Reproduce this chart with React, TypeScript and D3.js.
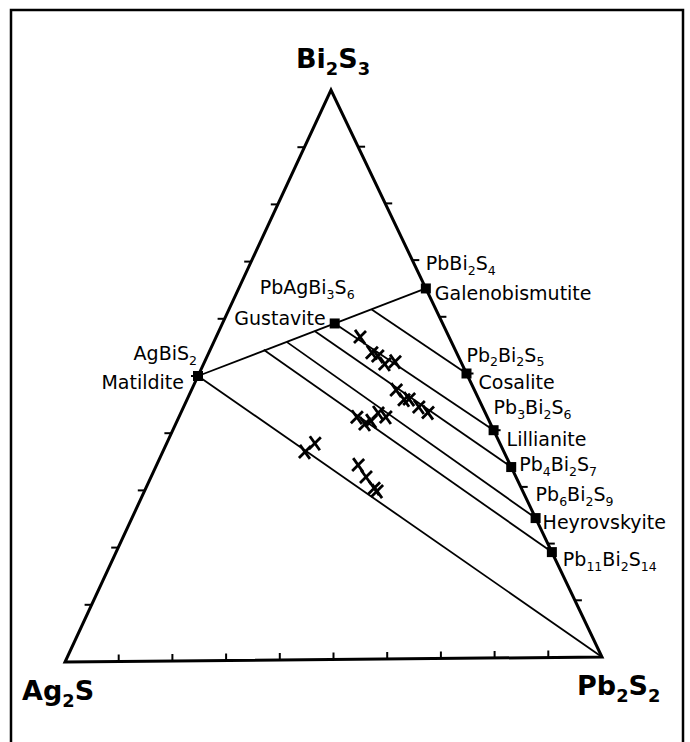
import React from 'react';
import * as d3 from 'd3';

// ternary end members: [Ag2S, Pb2S2, Bi2S3]
const endMembers = ['Ag2S', 'Pb2S2', 'Bi2S3'];

// phases plotted as filled squares (fractions)
const phaseFormula = ['AgBiS2', 'PbAgBi3S6', 'PbBi2S4', 'Pb2Bi2S5', 'Pb3Bi2S6', 'Pb4Bi2S7', 'Pb6Bi2S9', 'Pb11Bi2S14'];
const phaseName = ['Matildite', 'Gustavite', 'Galenobismutite', 'Cosalite', 'Lillianite', '', 'Heyrovskyite', ''];
const phaseComp = [
  [0.5, 0, 0.5],
  [0.2, 0.21, 0.59],
  [0, 0.35, 0.65],
  [0, 0.5, 0.5],
  [0, 0.6, 0.4],
  [0, 0.665, 0.335],
  [0, 0.755, 0.245],
  [0, 0.815, 0.185],
];

// starting points of the tie lines on the AgBiS2 - PbBi2S4 join
const joinStart = [
  [0.5, 0, 0.5],
  [0.119, 0.267, 0.614],
  [0.2, 0.21, 0.59],
  [0.244, 0.179, 0.577],
  [0.305, 0.137, 0.558],
  [0.355, 0.1, 0.545],
  [0.5, 0, 0.5],
];
const joinEnd = [
  [0, 0.35, 0.65],
  [0, 0.5, 0.5],
  [0, 0.6, 0.4],
  [0, 0.665, 0.335],
  [0, 0.755, 0.245],
  [0, 0.815, 0.185],
  [0, 1, 0],
];

// analyses (crosses)
const analyses = [
  [0.165, 0.269, 0.566], [0.157, 0.305, 0.538], [0.149, 0.319, 0.532], [0.143, 0.339, 0.518], [0.122, 0.356, 0.522],
  [0.145, 0.383, 0.472], [0.139, 0.406, 0.455], [0.129, 0.415, 0.456], [0.118, 0.44, 0.442], [0.106, 0.462, 0.432],
  [0.242, 0.333, 0.425], [0.233, 0.354, 0.413], [0.219, 0.363, 0.418], [0.199, 0.369, 0.432], [0.188, 0.387, 0.425],
  [0.369, 0.266, 0.365], [0.343, 0.277, 0.38],
  [0.282, 0.377, 0.341], [0.278, 0.402, 0.32], [0.273, 0.427, 0.3], [0.27, 0.435, 0.295],
];

const tickSteps = d3.range(1, 10).map(k => k / 10);

// layout
const W = 690, H = 742;
const vA: [number, number] = [65, 662];
const vB: [number, number] = [602, 657];
const vC: [number, number] = [331, 90];
const edgeAC = d3.interpolateArray(vA, vC);
const edgeBC = d3.interpolateArray(vB, vC);

function proj(c: number[]): [number, number] {
  const [ag, pb, bi] = c;
  const l = edgeAC(bi), r = edgeBC(bi);
  const t = ag + pb > 0 ? pb / (ag + pb) : 0;
  const p = d3.interpolateArray(l, r)(t);
  return [p[0], p[1]];
}

const endLabelPos = [
  { dx: -43, dy: 38, anchor: 'start' },
  { dx: -25, dy: 38, anchor: 'start' },
  { dx: 2, dy: -22, anchor: 'middle' },
];
const formulaPos = [
  { dx: -1, dy: -16, anchor: 'end' },
  { dx: -75, dy: -29, anchor: 'start' },
  { dx: 0, dy: -18, anchor: 'start' },
  { dx: 0, dy: -12, anchor: 'start' },
  { dx: 0, dy: -16, anchor: 'start' },
  { dx: 8, dy: 4, anchor: 'start' },
  { dx: 0, dy: -17, anchor: 'start' },
  { dx: 11, dy: 14, anchor: 'start' },
];
const namePos = [
  { dx: -14, dy: 13, anchor: 'end' },
  { dx: -9, dy: 2, anchor: 'end' },
  { dx: 9, dy: 12, anchor: 'start' },
  { dx: 12, dy: 15, anchor: 'start' },
  { dx: 13, dy: 16, anchor: 'start' },
  null,
  { dx: 7, dy: 11, anchor: 'start' },
  null,
];

function Formula({ text, x, y, size, anchor, bold }: any) {
  const parts = text.split(/(\d+)/).filter(Boolean);
  const sh = size * 0.26;
  let low = false;
  return (
    <text x={x} y={y} fontSize={size} textAnchor={anchor} fontWeight={bold ? 'bold' : 'normal'}>
      {parts.map((p: string, i: number) => {
        const isSub = /\d/.test(p);
        const dy = isSub ? (low ? 0 : sh) : (low ? -sh : 0);
        low = isSub;
        return <tspan key={i} dy={dy} fontSize={isSub ? size * 0.66 : size}>{p}</tspan>;
      })}
    </text>
  );
}

export default function App() {
  const line = d3.line();
  const tri = [vA, vB, vC, vA].map(p => p as [number, number]);
  const tick = 7;

  const leftTicks = tickSteps.map(f => proj([1 - f, 0, f]));
  const rightTicks = tickSteps.map(f => proj([0, 1 - f, f]));
  const baseTicks = tickSteps.map(f => proj([1 - f, f, 0]));

  return (
    <div style={{ position: 'absolute', left: 0, top: 0, width: W, height: H, background: '#fff' }}>
      <svg width={W} height={H} viewBox={`0 0 ${W} ${H}`} fontFamily="'DejaVu Sans', sans-serif" fill="#000">
        <rect x={11} y={10} width={672} height={745} fill="none" stroke="#000" strokeWidth={2.5} />

        {/* tie lines */}
        {joinStart.map((s, i) => (
          <path key={'tie' + i} d={line([proj(s), proj(joinEnd[i])]) || ''} stroke="#000" strokeWidth={1.8} fill="none" />
        ))}

        {/* triangle */}
        <path d={line(tri) + 'Z'} fill="none" stroke="#000" strokeWidth={3} strokeLinejoin="miter" />

        {/* ticks */}
        {leftTicks.map((p, i) => (
          <line key={'lt' + i} x1={p[0]} y1={p[1]} x2={p[0] - tick} y2={p[1]} stroke="#000" strokeWidth={2} />
        ))}
        {rightTicks.map((p, i) => (
          <line key={'rt' + i} x1={p[0]} y1={p[1]} x2={p[0] + tick} y2={p[1]} stroke="#000" strokeWidth={2} />
        ))}
        {baseTicks.map((p, i) => (
          <line key={'bt' + i} x1={p[0]} y1={p[1]} x2={p[0]} y2={p[1] - tick} stroke="#000" strokeWidth={2} />
        ))}

        {/* analyses */}
        {analyses.map((c, i) => {
          const [x, y] = proj(c);
          return (
            <path key={'x' + i} d={`M${x - 5},${y - 7}L${x + 5},${y + 7}M${x + 6},${y - 6}L${x - 6},${y + 6}`}
              stroke="#000" strokeWidth={2.8} fill="none" />
          );
        })}

        {/* phases */}
        {phaseComp.map((c, i) => {
          const [x, y] = proj(c);
          return <rect key={'ph' + i} x={x - 5} y={y - 5} width={10} height={10} fill="#000" />;
        })}

        {phaseComp.map((c, i) => {
          const [x, y] = proj(c);
          const fp = formulaPos[i];
          const np = namePos[i];
          return (
            <g key={'lab' + i}>
              <Formula text={phaseFormula[i]} x={x + fp.dx} y={y + fp.dy} size={19} anchor={fp.anchor} />
              {np && phaseName[i] && (
                <text x={x + np.dx} y={y + np.dy} fontSize={19} textAnchor={np.anchor}>{phaseName[i]}</text>
              )}
            </g>
          );
        })}

        {/* end member labels */}
        {[vA, vB, vC].map((v, i) => (
          <Formula key={'em' + i} text={endMembers[i]} x={v[0] + endLabelPos[i].dx} y={v[1] + endLabelPos[i].dy}
            size={27} anchor={endLabelPos[i].anchor} bold />
        ))}
      </svg>
    </div>
  );
}
